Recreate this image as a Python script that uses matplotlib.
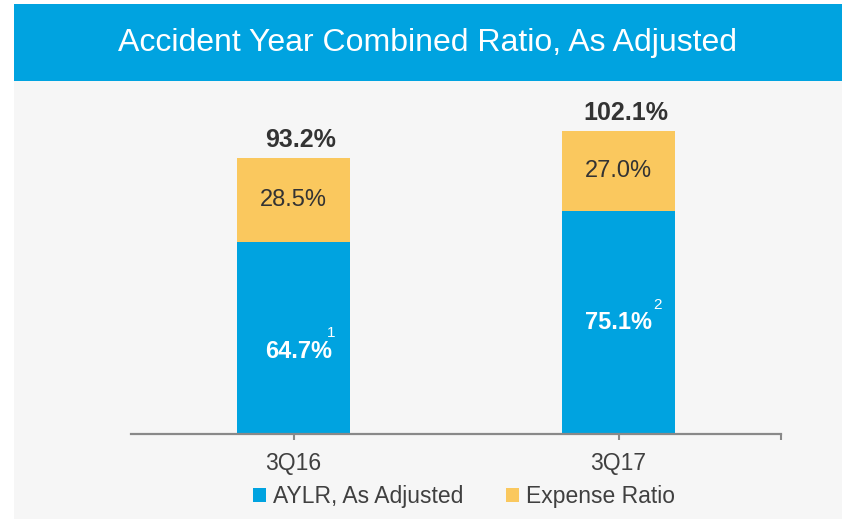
import numpy as np
import matplotlib.pyplot as plt
from matplotlib.patches import Rectangle

plt.rcParams['font.family'] = ['Liberation Sans', 'DejaVu Sans']

# data
quarters = ['3Q16', '3Q17']
aylr = [64.7, 75.1]
expense = [28.5, 27.0]
totals = [93.2, 102.1]
footnotes = ['1', '2']
series_names = ['AYLR, As Adjusted', 'Expense Ratio']

blue = '#00A3E0'
yellow = '#FAC85E'
dark = '#333333'
gray_bg = '#F6F6F6'

fig = plt.figure(figsize=(8.42, 5.19), dpi=100)
W, H = 842, 519

# background panel + title banner (pixel coords -> figure fraction)
fig.add_artist(Rectangle((14 / W, 0), 1 - 14 / W, 1 - 81 / H, transform=fig.transFigure,
                         facecolor=gray_bg, edgecolor='none', zorder=0))
fig.add_artist(Rectangle((14 / W, 1 - 81 / H), 1 - 14 / W, 77 / H, transform=fig.transFigure,
                         facecolor=blue, edgecolor='none', zorder=0))
fig.text(428 / W, 1 - 43 / H, 'Accident Year Combined Ratio, As Adjusted',
         ha='center', va='center', color='white', fontsize=23)

ax = fig.add_axes([131 / W, 85 / H, 650 / W, 341 / H])
ax.set_facecolor('none')

x = np.arange(len(quarters))
bw = 0.345
b1 = ax.bar(x, aylr, bw, color=blue, label=series_names[0], zorder=2)
b2 = ax.bar(x, expense, bw, bottom=aylr, color=yellow, label=series_names[1], zorder=2)

ax.set_xlim(-0.5, 1.5)
ax.set_ylim(0, 115)

for s in ['top', 'left', 'right']:
    ax.spines[s].set_visible(False)
ax.spines['bottom'].set_color('#898989')
ax.spines['bottom'].set_linewidth(1.6)
ax.set_yticks([])
ax.set_xticks(x)
ax.set_xticklabels(quarters, fontsize=16.5, color='#404040')
ax.set_xticks([1.5], minor=True)
ax.tick_params(axis='x', which='both', length=4, width=1.5, color='#898989', pad=9)

# label offsets in pixels (style only)
lab_off = [(5, -13), (0, 0)]
sup_off = [(38, 5), (39, 18)]

for i in range(len(quarters)):
    mid_b = aylr[i] / 2
    dx, dy = lab_off[i]
    ax.annotate(f'{aylr[i]:.1f}%', (x[i], mid_b), xytext=(dx * 0.72, dy * 0.72),
                textcoords='offset points', ha='center', va='center',
                color='white', fontsize=17, fontweight='bold', zorder=3)
    sx, sy = sup_off[i]
    ax.annotate(footnotes[i], (x[i], mid_b), xytext=(sx * 0.72, sy * 0.72),
                textcoords='offset points', ha='center', va='center',
                color='white', fontsize=11, zorder=3)
    mid_y = aylr[i] + expense[i] / 2
    ax.annotate(f'{expense[i]:.1f}%', (x[i], mid_y), ha='center', va='center',
                color=dark, fontsize=17, zorder=3)
    ax.annotate(f'{totals[i]:.1f}%', (x[i], aylr[i] + expense[i]), xytext=(5, 8),
                textcoords='offset points', ha='center', va='baseline',
                color=dark, fontsize=18, fontweight='bold', zorder=3)

fig.legend(handles=[b1, b2], loc='center', bbox_to_anchor=(464 / W, 1 - 497 / H),
           ncol=2, frameon=False, fontsize=16.5, handlelength=0.55, handleheight=0.55,
           handletextpad=0.3, columnspacing=1.9, labelcolor='#404040')

fig.savefig('out.png', dpi=100)
